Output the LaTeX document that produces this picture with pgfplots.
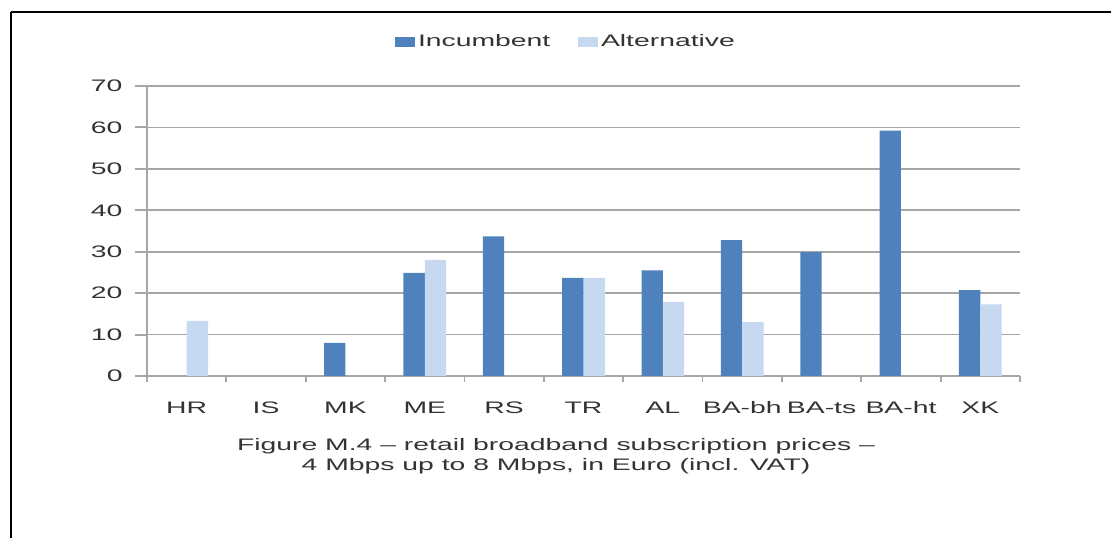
\documentclass[border=0pt]{standalone}
\usepackage{fontspec}
\setmainfont{Liberation Sans}[FakeStretch=1.7]
\usepackage{pgfplots}
\pgfplotsset{compat=1.18}
\definecolor{inc}{HTML}{4F81BD}
\definecolor{alt}{HTML}{C6D9F1}
\definecolor{gridc}{HTML}{A6A6A6}
\definecolor{txt}{HTML}{333333}
\begin{document}
\fontsize{12.5pt}{15pt}\selectfont
\begin{tikzpicture}[x=0.75pt,y=0.75pt]
\useasboundingbox (0,0) rectangle (1111,538);
\draw[line width=1.6pt] (11,526) -- (1111,526);
\draw[line width=1.6pt] (11,526) -- (11,0);
\begin{axis}[
  at={(110.25pt,121.5pt)}, anchor=south west,
  scale only axis, width=654.75pt, height=217.5pt,
  ybar=0pt, bar width=16pt,
  xmin=-0.5, xmax=10.5, ymin=0, ymax=70,
  axis x line*=bottom, axis y line*=left,
  x axis line style={-, draw=gridc, line width=1.4pt},
  y axis line style={-, draw=gridc, line width=2pt},
  xtick={0,...,10},
  xticklabels={HR,IS,MK,ME,RS,TR,AL,BA-bh,BA-ts,BA-ht,XK},
  minor xtick={-0.5,0.5,...,10.5},
  every major x tick/.append style={draw=none},
  minor tick length=4.5pt,
  ytick={0,10,...,70},
  major tick length=9pt,
  tick align=outside,
  tick style={draw=gridc, line width=1.4pt},
  ymajorgrids, grid style={draw=gridc, line width=1.2pt},
  /pgf/number format/assume math mode=true,
  ticklabel style={font=\fontsize{12.5pt}{15pt}\selectfont, text=txt},
  yticklabel style={xshift=-5pt},
  xticklabel style={yshift=-6pt},
  legend style={at={(0.4805,1.152)}, anchor=center, draw=none, fill=none,
    legend columns=2, font=\fontsize{12.5pt}{15pt}\selectfont, text=txt,
    /tikz/every even column/.append style={column sep=19pt},
    nodes={inner xsep=2pt}},
  legend image code/.code={\fill[#1] (0pt,-3.75pt) rectangle (15pt,3.75pt);},
]
\addplot[fill=inc, draw=none] coordinates {(2,8.0) (3,24.9) (4,33.7) (5,23.7) (6,25.5) (7,32.8) (8,29.9) (9,59.2) (10,20.7)};
\addplot[fill=alt, draw=none] coordinates {(0,13.3) (3,28.0) (5,23.7) (6,17.9) (7,13.0) (10,17.3)};
\legend{Incumbent,Alternative}
\end{axis}
\node[align=center, text=txt, font=\fontsize{12.5pt}{15pt}\selectfont] at (556,82) {Figure M.4 -- retail broadband subscription prices --\\4 Mbps up to 8 Mbps, in Euro (incl. VAT)};
\end{tikzpicture}
\end{document}
